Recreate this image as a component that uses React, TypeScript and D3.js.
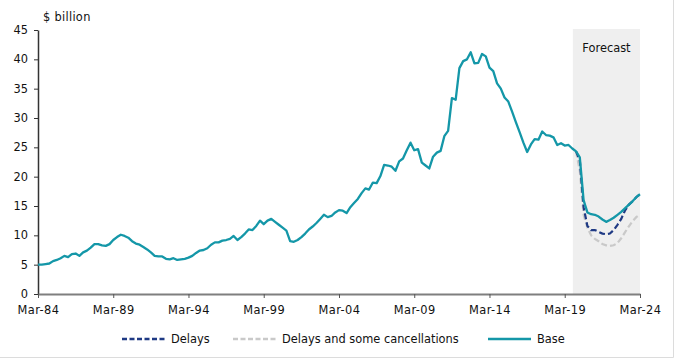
import * as d3 from "d3";
import { useEffect, useRef } from "react";

// quarterly, starting Mar-84
const startYear = 1984;
const baseValues = [
  5.0, 5.0, 5.1, 5.2, 5.6, 5.8, 6.1, 6.5, 6.3, 6.8,
  6.9, 6.5, 7.1, 7.4, 7.9, 8.5, 8.5, 8.3, 8.2, 8.5,
  9.2, 9.7, 10.1, 9.9, 9.6, 9.0, 8.6, 8.4, 8.0, 7.6,
  7.1, 6.5, 6.4, 6.4, 6.0, 5.9, 6.1, 5.8, 5.9, 6.0,
  6.2, 6.5, 7.0, 7.4, 7.5, 7.8, 8.4, 8.8, 8.8, 9.1,
  9.2, 9.4, 9.9, 9.2, 9.7, 10.3, 11.0, 10.9, 11.6, 12.5,
  11.9, 12.5, 12.8, 12.3, 11.8, 11.3, 10.8, 9.0, 8.9, 9.2,
  9.7, 10.3, 11.0, 11.5, 12.1, 12.8, 13.5, 13.1, 13.3, 13.9,
  14.3, 14.2, 13.8, 14.8, 15.5, 16.2, 17.2, 18.0, 17.8, 19.0,
  18.9, 20.1, 22.0, 21.9, 21.7, 21.0, 22.6, 23.1, 24.5, 25.8,
  24.5, 24.7, 22.4, 21.9, 21.4, 23.4, 24.1, 24.4, 26.9, 27.8,
  33.4, 33.1, 38.5, 39.7, 40.0, 41.2, 39.3, 39.4, 40.9, 40.5,
  38.6, 38.0, 35.9, 35.0, 33.5, 32.8, 31.1, 29.3, 27.6, 25.8,
  24.2, 25.5, 26.4, 26.3, 27.7, 27.1, 27.0, 26.7, 25.4, 25.7,
  25.3, 25.4, 24.8, 24.3, 23.3, 16.0, 13.9, 13.6, 13.5, 13.2,
  12.7, 12.3, 12.6, 13.0, 13.5, 14.0, 14.6, 15.2, 15.8, 16.5, 17.0,
];
// scenarios start at Dec-19 (quarter index 143)
const scenarioStart = 143;
const delaysValues = [
  24.3, 22.8, 14.8, 11.6, 10.9, 10.9, 10.6, 10.3, 10.2, 10.3,
  10.9, 11.8, 12.8, 14.2, 15.2, 15.8, 16.5, 17.0,
];
const cancelValues = [
  24.3, 21.0, 13.5, 11.3, 10.0, 9.4, 9.0, 8.5, 8.3, 8.2,
  8.3, 8.7, 9.5, 10.5, 11.5, 12.4, 13.1, 13.6,
];
const forecastFrom = new Date(2019, 8, 15);
const yTicks = [0, 5, 10, 15, 20, 25, 30, 35, 40, 45];
const xTickYears = [1984, 1989, 1994, 1999, 2004, 2009, 2014, 2019, 2024];
const labels = ["Delays", "Delays and some cancellations", "Base"];
const colors = ["#1f3a84", "#c9c9c9", "#1497a8"];

const quarterDate = (i: number) => new Date(startYear, 2 + 3 * i, 1);

export default function App() {
  const ref = useRef<SVGSVGElement>(null);

  useEffect(() => {
    const width = 677;
    const height = 361;
    const margin = { top: 30, right: 37, bottom: 67, left: 38 };
    const font = "DejaVu Sans, Verdana, sans-serif";
    const fontSize = 11.4;

    const svg = d3.select(ref.current);
    svg.selectAll("*").remove();

    const x = d3
      .scaleTime()
      .domain([new Date(1984, 2, 1), new Date(2024, 2, 1)])
      .range([margin.left, width - margin.right]);
    const y = d3
      .scaleLinear()
      .domain([0, 45])
      .range([height - margin.bottom, margin.top]);

    svg.append("rect").attr("width", width).attr("height", height).attr("fill", "#fff");
    // outer frame (right and bottom edges)
    svg
      .append("path")
      .attr("d", `M${width - 3.5},0 V${height - 3.5} H0`)
      .attr("fill", "none")
      .attr("stroke", "#dcdcdc");

    // forecast shading
    svg
      .append("rect")
      .attr("x", x(forecastFrom))
      .attr("y", y(45) - 1)
      .attr("width", x(new Date(2024, 2, 1)) - x(forecastFrom))
      .attr("height", y(0) - y(45) + 1)
      .attr("fill", "#efefef");
    svg
      .append("text")
      .attr("x", (x(forecastFrom) + x(new Date(2024, 2, 1))) / 2)
      .attr("y", 52)
      .attr("text-anchor", "middle")
      .attr("font-family", font)
      .attr("font-size", fontSize)
      .attr("fill", "#111")
      .text("Forecast");

    // y axis
    const yAxis = svg
      .append("g")
      .attr("transform", `translate(${margin.left},0)`)
      .call(
        d3.axisLeft(y).tickValues(yTicks).tickSize(4).tickSizeOuter(0).tickPadding(6)
      );
    yAxis.select(".domain").attr("stroke", "#333").attr("stroke-width", 1.5);
    yAxis.selectAll(".tick line").attr("stroke", "#333");
    yAxis
      .selectAll("text")
      .attr("font-family", font)
      .attr("font-size", fontSize)
      .attr("fill", "#111");

    svg
      .append("text")
      .attr("x", 43)
      .attr("y", 21)
      .attr("font-family", font)
      .attr("font-size", fontSize)
      .attr("letter-spacing", 0.3)
      .attr("fill", "#111")
      .text("$ billion");

    // x axis
    const xAxis = svg
      .append("g")
      .attr("transform", `translate(0,${y(0)})`)
      .call(
        d3
          .axisBottom(x)
          .tickValues(xTickYears.map((yr) => new Date(yr, 2, 1)))
          .tickFormat((d) => d3.timeFormat("%b-%y")(d as Date))
          .tickSize(4)
          .tickSizeOuter(0)
          .tickPadding(8)
      );
    xAxis.select(".domain").attr("stroke", "#7f7f7f").attr("stroke-width", 2);
    xAxis.selectAll(".tick line").attr("stroke", "#555");
    xAxis
      .selectAll("text")
      .attr("font-family", font)
      .attr("font-size", fontSize)
      .attr("letter-spacing", 0.4)
      .attr("fill", "#111");

    const line = d3
      .line<{ date: Date; value: number }>()
      .x((d) => x(d.date))
      .y((d) => y(d.value));

    const base = baseValues.map((v, i) => ({ date: quarterDate(i), value: v }));
    const delays = delaysValues.map((v, i) => ({
      date: quarterDate(scenarioStart + i),
      value: v,
    }));
    const cancel = cancelValues.map((v, i) => ({
      date: quarterDate(scenarioStart + i),
      value: v,
    }));

    svg
      .append("path")
      .datum(cancel)
      .attr("fill", "none")
      .attr("stroke", colors[1])
      .attr("stroke-width", 2.2)
      .attr("stroke-dasharray", "6,3")
      .attr("d", line);
    svg
      .append("path")
      .datum(delays)
      .attr("fill", "none")
      .attr("stroke", colors[0])
      .attr("stroke-width", 2.2)
      .attr("stroke-dasharray", "6,3")
      .attr("d", line);
    svg
      .append("path")
      .datum(base)
      .attr("fill", "none")
      .attr("stroke", colors[2])
      .attr("stroke-width", 2.3)
      .attr("stroke-linejoin", "round")
      .attr("d", line);

    // legend
    const legendX = [122, 233, 488];
    const legendY = 339;
    const gLegend = svg.append("g");
    labels.forEach((label, i) => {
      gLegend
        .append("path")
        .attr("d", `M${legendX[i]},${legendY} h43`)
        .attr("stroke", colors[i])
        .attr("stroke-width", 2.5)
        .attr("stroke-dasharray", i < 2 ? "5,2.5" : null);
      gLegend
        .append("text")
        .attr("x", legendX[i] + 49)
        .attr("y", legendY + 4)
        .attr("font-family", font)
        .attr("font-size", fontSize)
        .attr("fill", "#111")
        .text(label);
    });
  }, []);

  return (
    <svg
      ref={ref}
      width={677}
      height={361}
      style={{ position: "absolute", left: 0, top: 0 }}
    ></svg>
  );
}
